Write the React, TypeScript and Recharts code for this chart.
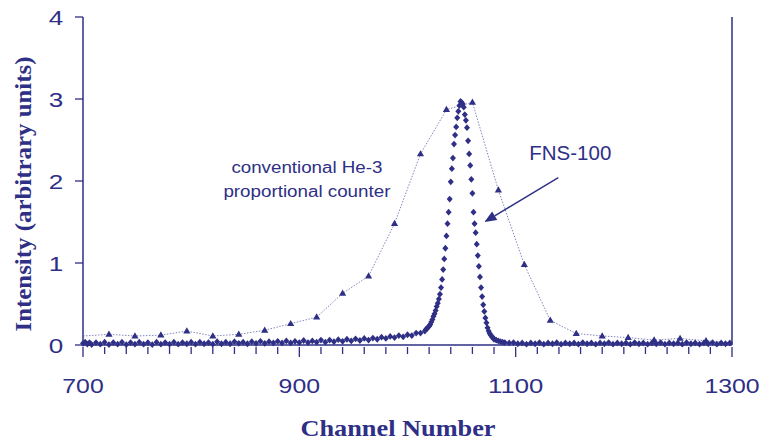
import React from "react";
import {
  ComposedChart,
  XAxis,
  YAxis,
  Line,
  Scatter,
  ReferenceLine,
  ReferenceDot,
  Label,
} from "recharts";

const NAVY = "#2e2f85";
const HE_LINE = "#7477b6";

// conventional He-3 proportional counter (triangles)
const heChannels = [
  700, 724, 748, 772, 796, 820, 844, 868, 892, 916, 940, 964, 988, 1012, 1036,
  1060, 1084, 1108, 1132, 1156, 1180, 1204, 1228, 1252, 1276, 1300,
];
const heIntensity = [
  0.11, 0.13, 0.11, 0.12, 0.17, 0.11, 0.13, 0.18, 0.26, 0.34, 0.63, 0.84, 1.48,
  2.33, 2.87, 2.96, 1.89, 0.98, 0.3, 0.14, 0.11, 0.09, 0.06, 0.08, 0.05, 0.03,
];

// FNS-100 (diamonds)
const fnsChannels = [
  700, 702, 704, 706, 708, 712, 716, 720, 724, 728, 732, 736, 740, 744, 748, 752,
  756, 760, 764, 768, 772, 776, 780, 784, 788, 792, 796, 800, 804, 808, 812, 816,
  820, 824, 828, 832, 836, 840, 844, 848, 852, 856, 860, 864, 868, 872, 876, 880,
  884, 888, 892, 896, 900, 904, 908, 912, 916, 920, 924, 928, 932, 936, 940, 944,
  948, 952, 956, 960, 964, 968, 972, 976, 980, 984, 988, 992, 996, 1000, 1004,
  1008, 1012, 1016, 1017, 1018, 1019, 1020, 1021, 1022, 1023, 1024, 1025, 1026,
  1027, 1028, 1029, 1030, 1031, 1032, 1033, 1034, 1035, 1036, 1037, 1038, 1039,
  1040, 1041, 1042, 1043, 1044, 1045, 1046, 1047, 1048, 1049, 1050, 1051, 1052,
  1053, 1054, 1055, 1056, 1057, 1058, 1059, 1060, 1061, 1062, 1063, 1064, 1065,
  1066, 1067, 1068, 1069, 1070, 1071, 1072, 1073, 1074, 1075, 1076, 1077, 1078,
  1079, 1080, 1082, 1084, 1086, 1088, 1090, 1094, 1098, 1102, 1106, 1110, 1114,
  1118, 1122, 1126, 1130, 1134, 1138, 1142, 1146, 1150, 1154, 1158, 1162, 1166,
  1170, 1174, 1178, 1182, 1186, 1190, 1194, 1198, 1202, 1206, 1210, 1214, 1218,
  1222, 1226, 1230, 1234, 1238, 1242, 1246, 1250, 1254, 1258, 1262, 1266, 1270,
  1274, 1278, 1282, 1286, 1290, 1294, 1298,
];
const fnsIntensity = [
  0.02, 0.035, 0.01, 0.03, 0.005, 0.03, 0.01, 0.035, 0.005, 0.03, 0.01, 0.035,
  0.005, 0.03, 0.01, 0.035, 0.01, 0.03, 0.005, 0.035, 0.01, 0.03, 0.01, 0.035,
  0.01, 0.03, 0.015, 0.035, 0.01, 0.035, 0.015, 0.03, 0.01, 0.04, 0.015, 0.035,
  0.015, 0.04, 0.02, 0.035, 0.015, 0.04, 0.02, 0.045, 0.02, 0.04, 0.025, 0.045,
  0.025, 0.05, 0.025, 0.045, 0.03, 0.055, 0.03, 0.05, 0.035, 0.06, 0.035, 0.06,
  0.04, 0.065, 0.045, 0.07, 0.05, 0.075, 0.055, 0.08, 0.06, 0.085, 0.07, 0.095,
  0.08, 0.105, 0.09, 0.115, 0.1, 0.125, 0.115, 0.145, 0.145, 0.17, 0.19, 0.2,
  0.215, 0.23, 0.25, 0.28, 0.31, 0.35, 0.38, 0.42, 0.47, 0.51, 0.56, 0.62, 0.7,
  0.8, 0.92, 1.05, 1.18, 1.33, 1.48, 1.62, 1.78, 1.99, 2.15, 2.28, 2.45, 2.56,
  2.66, 2.77, 2.85, 2.92, 2.97, 2.96, 2.94, 2.9, 2.81, 2.74, 2.65, 2.49, 2.33,
  2.19, 2.02, 1.85, 1.62, 1.48, 1.37, 1.23, 1.09, 0.96, 0.83, 0.7, 0.59, 0.49,
  0.41, 0.33, 0.27, 0.21, 0.17, 0.14, 0.12, 0.1, 0.09, 0.07, 0.06, 0.05, 0.04,
  0.035, 0.03, 0.025, 0.03, 0.015, 0.025, 0.01, 0.025, 0.015, 0.03, 0.01, 0.025,
  0.015, 0.03, 0.01, 0.025, 0.015, 0.025, 0.01, 0.03, 0.015, 0.025, 0.01, 0.025,
  0.015, 0.03, 0.01, 0.025, 0.015, 0.025, 0.01, 0.03, 0.015, 0.025, 0.01, 0.025,
  0.015, 0.03, 0.01, 0.025, 0.015, 0.025, 0.01, 0.03, 0.015, 0.025, 0.01, 0.025,
  0.015, 0.03, 0.01, 0.025, 0.015, 0.025, 0.01, 0.02,
];

const xTicks = [
  700, 720, 740, 760, 780, 800, 820, 840, 860, 880, 900, 920, 940, 960, 980,
  1000, 1020, 1040, 1060, 1080, 1100, 1120, 1140, 1160, 1180, 1200, 1220, 1240,
  1260, 1280, 1300,
];
const xLabels = [700, 900, 1100, 1300];
const yTicks = [0, 1, 2, 3, 4];

const heData = heChannels.map((x, i) => ({ x, y: heIntensity[i] }));
const fnsData = fnsChannels.map((x, i) => ({ x, y: fnsIntensity[i] }));

function XTick({ x, y, payload }: any) {
  const v = payload.value;
  const major = xLabels.includes(v);
  const s = String(v);
  return (
    <g>
      <line x1={x} x2={x} y1={y} y2={y + (major ? 10 : 7)} stroke={NAVY} strokeWidth={1.3} />
      {major && (
        <text
          x={x}
          y={y + 46}
          textAnchor="middle"
          fontFamily="Liberation Sans, Arial, sans-serif"
          fontSize={21}
          fill={NAVY}
          textLength={s.length * 13.8}
          lengthAdjust="spacingAndGlyphs"
        >
          {s}
        </text>
      )}
    </g>
  );
}

function YTick({ x, y, payload }: any) {
  return (
    <g>
      <line x1={x - 6} x2={x + 2} y1={y} y2={y} stroke={NAVY} strokeWidth={1.3} />
      <text
        x={x - 25}
        y={y + 7.5}
        textAnchor="middle"
        fontFamily="Liberation Sans, Arial, sans-serif"
        fontSize={21}
        fill={NAVY}
        textLength={14.5}
        lengthAdjust="spacingAndGlyphs"
      >
        {payload.value}
      </text>
    </g>
  );
}

function Triangle(props: any) {
  const { cx, cy, index } = props;
  if (index === 0 || index === heData.length - 1 || cx == null) return <g key={`t${index}`} />;
  return (
    <polygon
      key={`t${index}`}
      points={`${cx},${cy - 3.8} ${cx - 3.6},${cy + 2.4} ${cx + 3.6},${cy + 2.4}`}
      fill={NAVY}
    />
  );
}

function Diamond(props: any) {
  const { cx, cy } = props;
  return (
    <polygon
      points={`${cx},${cy - 3.4} ${cx + 3},${cy} ${cx},${cy + 3.4} ${cx - 3},${cy}`}
      fill={NAVY}
    />
  );
}

function Arrow({ x1, y1, x2, y2 }: any) {
  const dx = x2 - x1;
  const dy = y2 - y1;
  const len = Math.sqrt(dx * dx + dy * dy);
  const ux = dx / len;
  const uy = dy / len;
  const head = 12;
  const half = 5;
  const bx = x2 - ux * head;
  const by = y2 - uy * head;
  return (
    <g>
      <line x1={x1} y1={y1} x2={bx} y2={by} stroke={NAVY} strokeWidth={1.4} />
      <polygon
        points={`${x2},${y2} ${bx - uy * half},${by + ux * half} ${bx + uy * half},${by - ux * half}`}
        fill={NAVY}
      />
    </g>
  );
}

export default function App() {
  return (
    <div style={{ position: "absolute", left: 0, top: 0, background: "#fff" }}>
      <ComposedChart
        width={777}
        height={441}
        margin={{ top: 17, right: 44, bottom: 0, left: 0 }}
      >
        <XAxis
          dataKey="x"
          type="number"
          domain={[700, 1300]}
          ticks={xTicks}
          interval={0}
          height={96}
          tickSize={0}
          tickLine={false}
          axisLine={{ stroke: NAVY, strokeWidth: 1.5 }}
          tick={<XTick />}
        >
          <Label
            content={({ viewBox }: any) => (
              <text
                x={viewBox.x + 315}
                y={viewBox.y + 91}
                textAnchor="middle"
                fontFamily="Liberation Serif, Times New Roman, serif"
                fontWeight="bold"
                fontSize={24}
                fill={NAVY}
                textLength={195}
                lengthAdjust="spacingAndGlyphs"
              >
                Channel Number
              </text>
            )}
          />
        </XAxis>
        {/* frame top edge: same scale, bound to the He-3 line */}
        <XAxis
          xAxisId="top"
          orientation="top"
          dataKey="x"
          type="number"
          domain={[700, 1300]}
          height={0}
          tick={false}
          tickLine={false}
          axisLine={{ stroke: NAVY, strokeWidth: 1.5 }}
        />
        <YAxis
          dataKey="y"
          type="number"
          domain={[0, 4]}
          ticks={yTicks}
          interval={0}
          width={83}
          tickSize={0}
          tickLine={false}
          axisLine={{ stroke: NAVY, strokeWidth: 1.5 }}
          tick={<YTick />}
        >
          <Label
            content={() => (
              <text
                x={31}
                y={194}
                transform="rotate(-90, 31, 194)"
                textAnchor="middle"
                fontFamily="Liberation Serif, Times New Roman, serif"
                fontWeight="bold"
                fontSize={24}
                fill={NAVY}
                textLength={275}
                lengthAdjust="spacingAndGlyphs"
              >
                Intensity (arbitrary units)
              </text>
            )}
          />
        </YAxis>
        {/* frame right edge: same scale, bound to the He-3 line */}
        <YAxis
          yAxisId="right"
          orientation="right"
          type="number"
          domain={[0, 4]}
          width={1}
          tick={false}
          tickLine={false}
          axisLine={{ stroke: NAVY, strokeWidth: 1.5 }}
        />
        <Line
          data={heData}
          dataKey="y"
          xAxisId="top"
          yAxisId="right"
          stroke={HE_LINE}
          strokeWidth={0.9}
          strokeDasharray="1.5 1.5"
          dot={Triangle}
          activeDot={false}
          isAnimationActive={false}
        />
        <Scatter data={fnsData} fill={NAVY} shape={Diamond} isAnimationActive={false} />
        <ReferenceLine
          segment={[
            { x: 1139.4, y: 2.04 },
            { x: 1071.1, y: 1.5 },
          ]}
          ifOverflow="visible"
          shape={Arrow}
        />
        <ReferenceDot
          x={907}
          y={2.096}
          r={0}
          ifOverflow="visible"
          shape={(p: any) => (
            <text
              x={p.cx}
              y={p.cy}
              textAnchor="middle"
              fontFamily="Liberation Sans, Arial, sans-serif"
              fontSize={16}
              fill={NAVY}
            >
              <tspan x={p.cx} textLength={151} lengthAdjust="spacingAndGlyphs">
                conventional He-3
              </tspan>
              <tspan x={p.cx} dy={23.4} textLength={167} lengthAdjust="spacingAndGlyphs">
                proportional counter
              </tspan>
            </text>
          )}
        />
        <ReferenceDot
          x={1150.5}
          y={2.259}
          r={0}
          ifOverflow="visible"
          shape={(p: any) => (
            <text
              x={p.cx}
              y={p.cy}
              textAnchor="middle"
              fontFamily="Liberation Sans, Arial, sans-serif"
              fontSize={20}
              fill={NAVY}
              textLength={82}
              lengthAdjust="spacingAndGlyphs"
            >
              FNS-100
            </text>
          )}
        />
      </ComposedChart>
    </div>
  );
}
